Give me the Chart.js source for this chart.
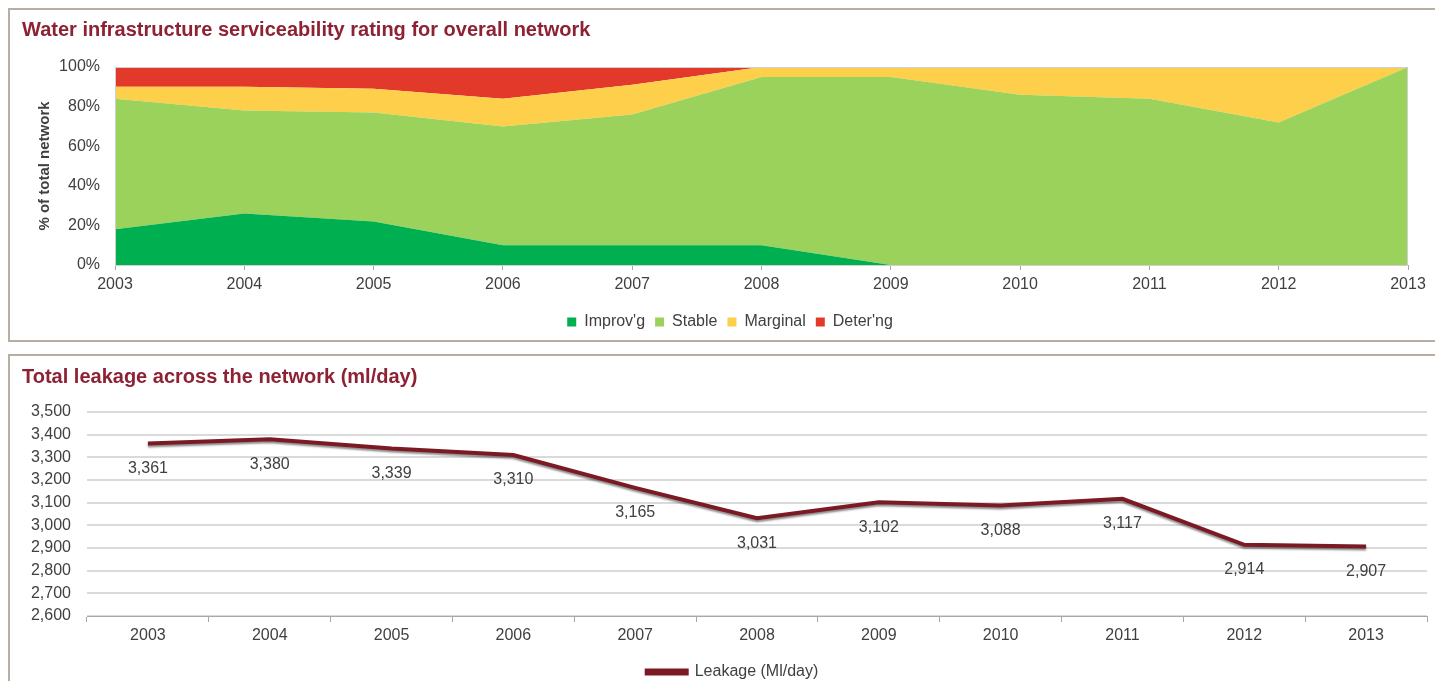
<!DOCTYPE html>
<html>
<head>
<meta charset="utf-8">
<script src="https://cdn.jsdelivr.net/npm/chart.js@4.4.1/dist/chart.umd.min.js"></script>
<style>
  body { margin: 0; background: #fff; overflow: hidden; }
  .panel { position: absolute; left: 8px; width: 1440px; border: 2px solid #b8aea3; box-sizing: border-box; }
  canvas { position: absolute; left: 0; }
</style>
</head>
<body>
<div class="panel" style="top:8px;height:334px"></div>
<div class="panel" style="top:354px;height:360px"></div>
<canvas id="ratingChart" width="1435" height="342" style="top:0"></canvas>
<canvas id="leakageChart" width="1435" height="345" style="top:355px"></canvas>
<script>
// data
const years = ['2003', '2004', '2005', '2006', '2007', '2008', '2009', '2010', '2011', '2012', '2013'];
const improving = [18, 26, 22, 10, 10, 10, 0, 0, 0, 0, 0];
const stable = [66, 52, 55, 60, 66, 85, 95, 86, 84, 72, 100];
const marginal = [6, 12, 12, 14, 15, 5, 5, 14, 16, 28, 0];
const deteriorating = [10, 10, 11, 16, 9, 0, 0, 0, 0, 0, 0];
const leakage = [3361, 3380, 3339, 3310, 3165, 3031, 3102, 3088, 3117, 2914, 2907];

const FONT = 'Arial, "Liberation Sans", sans-serif';
const TEXT = '#404040';
const TITLE = '#8c2233';

Chart.defaults.font.family = FONT;
Chart.defaults.color = TEXT;
Chart.defaults.animation = false;

// thin grey frame round the plot area of the top chart
const plotFrame = {
    id: 'plotFrame',
    afterDatasetsDraw(chart) {
        const a = chart.chartArea;
        const ctx = chart.ctx;
        ctx.save();
        ctx.strokeStyle = '#cfcfcf';
        ctx.lineWidth = 1;
        ctx.strokeRect(a.left + 0.5, a.top + 0.5, a.right - a.left - 1, a.bottom - a.top);
        ctx.restore();
    }
};

// nudge the legend sideways so it sits where the original one is
const legendShift = {
    id: 'legendShift',
    afterLayout(chart, args, opts) {
        chart.legend.left += opts.dx;
        chart.legend.right += opts.dx;
    }
};

function areaSet(label, data, color, fill) {
    return {
        label: label,
        data: data,
        backgroundColor: color,
        borderColor: color,
        borderWidth: 0,
        pointRadius: 0,
        fill: fill
    };
}

new Chart(document.getElementById('ratingChart'), {
    type: 'line',
    data: {
        labels: years,
        datasets: [
            areaSet("Improv'g", improving, '#00b050', 'origin'),
            areaSet('Stable', stable, '#9ad25c', '-1'),
            areaSet('Marginal', marginal, '#fdcf4a', '-1'),
            areaSet("Deter'ng", deteriorating, '#e2392a', '-1')
        ]
    },
    options: {
        responsive: false,
        layout: { padding: { left: 22, right: 27, top: 0, bottom: 2 } },
        plugins: {
            title: {
                display: true,
                text: 'Water infrastructure serviceability rating for overall network',
                align: 'start',
                color: TITLE,
                font: { size: 20, weight: 'bold' },
                padding: { top: 18, bottom: 25 }
            },
            legend: {
                position: 'bottom',
                labels: { boxWidth: 9, boxHeight: 9, padding: 10, font: { size: 16 }, color: TEXT }
            },
            legendShift: { dx: 15 },
            tooltip: { enabled: false }
        },
        scales: {
            x: {
                grid: { display: true, drawOnChartArea: false, tickLength: 5, color: '#a8a8a8' },
                border: { color: '#a8a8a8' },
                ticks: { font: { size: 16 }, padding: 5, maxRotation: 0 },
                afterFit(scale) { scale.height = 39; }
            },
            y: {
                stacked: true,
                min: 0,
                max: 100,
                grid: { display: false, drawTicks: false },
                border: { display: false },
                ticks: { stepSize: 20, font: { size: 16 }, padding: 15, callback: v => v + '%' },
                title: {
                    display: true,
                    text: '% of total network',
                    font: { size: 15, weight: 'bold' },
                    color: TEXT,
                    padding: { top: 14, bottom: 0 }
                },
                afterFit(scale) { scale.width = 93; }
            }
        }
    },
    plugins: [plotFrame, legendShift]
});

// value labels under each point of the leakage line
const valueLabels = {
    id: 'valueLabels',
    afterDatasetsDraw(chart) {
        const ctx = chart.ctx;
        const meta = chart.getDatasetMeta(0);
        ctx.save();
        ctx.font = '16px ' + FONT;
        ctx.fillStyle = TEXT;
        ctx.textAlign = 'center';
        ctx.textBaseline = 'middle';
        meta.data.forEach((pt, i) => {
            ctx.fillText(leakage[i].toLocaleString('en-US'), pt.x, pt.y + 25);
        });
        ctx.restore();
    }
};

// soft shadow under the line
const lineShadow = {
    id: 'lineShadow',
    beforeDatasetDraw(chart) {
        const ctx = chart.ctx;
        ctx.save();
        ctx.shadowColor = 'rgba(0,0,0,0.45)';
        ctx.shadowOffsetY = 2;
        ctx.shadowBlur = 2;
    },
    afterDatasetDraw(chart) {
        chart.ctx.restore();
    }
};

new Chart(document.getElementById('leakageChart'), {
    type: 'line',
    data: {
        labels: years,
        datasets: [{
            label: 'Leakage (Ml/day)',
            data: leakage,
            borderColor: '#7b1a24',
            backgroundColor: '#7b1a24',
            borderWidth: 4,
            pointRadius: 0,
            tension: 0,
            fill: false
        }]
    },
    options: {
        responsive: false,
        layout: { padding: { left: 22, right: 8, top: 0, bottom: 10 } },
        plugins: {
            title: {
                display: true,
                text: 'Total leakage across the network (ml/day)',
                align: 'start',
                color: TITLE,
                font: { size: 20, weight: 'bold' },
                padding: { top: 10, bottom: 23 }
            },
            legend: {
                position: 'bottom',
                labels: { boxWidth: 40, boxHeight: 3, padding: 10, font: { size: 16 }, color: TEXT }
            },
            legendShift: { dx: 8 },
            tooltip: { enabled: false }
        },
        scales: {
            x: {
                offset: true,
                grid: { display: true, offset: true, drawOnChartArea: false, tickLength: 6, color: '#a8a8a8' },
                border: { color: '#a8a8a8' },
                ticks: { font: { size: 16 }, padding: 4, maxRotation: 0 },
                afterFit(scale) { scale.height = 38; }
            },
            y: {
                min: 2600,
                max: 3500,
                grid: { color: '#dadada', lineWidth: 2, drawTicks: false },
                border: { display: false },
                ticks: { stepSize: 100, font: { size: 16 }, padding: 16, callback: v => v.toLocaleString('en-US') },
                afterFit(scale) { scale.width = 65; }
            }
        }
    },
    plugins: [valueLabels, lineShadow, legendShift]
});
</script>
</body>
</html>
